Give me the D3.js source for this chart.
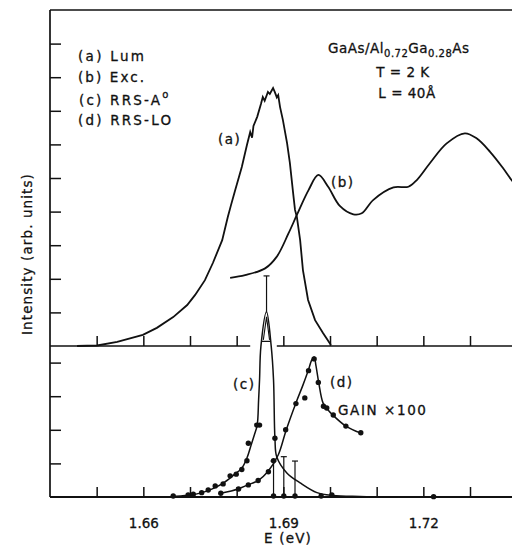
<!DOCTYPE html>
<html><head><meta charset="utf-8">
<script src="https://cdn.jsdelivr.net/npm/d3@7"></script>
<style>
body{margin:0;background:#fff;}
svg{display:block;font-family:"DejaVu Sans",sans-serif;}
</style></head>
<body><svg id="c" width="512" height="546"></svg>
<script>
// ---------- data ----------
const xDomain = [1.64, 1.74];
const xTicks = [1.65, 1.66, 1.67, 1.68, 1.69, 1.70, 1.71, 1.72, 1.73];
const xTickLabels = ["1.66", "1.69", "1.72"];
const topYTicks = [1, 2, 3, 4, 5, 6, 7, 8, 9];
const botYTicks = [1, 2, 3, 4];

// (a) luminescence (top panel)
const lumE = [1.6458,1.6501,1.6544,1.6599,1.6629,1.6664,1.6694,1.6711,1.6732,1.6749,1.6769,1.6781,1.6788,1.6796,1.6811,1.6822,1.6829,1.6833,1.6836,1.6844,1.6852,1.6856,1.6860,1.6867,1.6871,1.6878,1.6882,1.6886,1.6889,1.6893,1.6899,1.6908,1.6914,1.6921,1.6925,1.6929,1.6936,1.6942,1.6953,1.6968,1.6985,1.7002];
const lumI = [0,0.015,0.12,0.33,0.54,0.86,1.22,1.52,1.96,2.47,3.15,3.84,4.2,4.6,5.33,5.98,6.37,6.2,6.55,6.82,7.2,7.41,7.3,7.56,7.5,7.68,7.55,7.4,7.47,7.11,6.73,6.04,5.45,4.55,4.05,3.84,3.15,2.26,1.37,0.77,0.39,0.03];

// (b) excitation (top panel)
const excE = [1.6786,1.6818,1.6861,1.6886,1.6911,1.6929,1.6954,1.6975,1.6996,1.7021,1.7050,1.7068,1.7093,1.7136,1.7168,1.7186,1.7214,1.7250,1.7289,1.7314,1.7343,1.7371,1.7389,1.7400];
const excI = [2.03,2.11,2.31,2.66,3.35,3.90,4.64,5.09,4.74,4.17,3.92,3.95,4.35,4.72,4.74,4.94,5.44,6.03,6.33,6.18,5.78,5.29,4.94,4.75];

// (c) RRS-A0 fit curve and points (bottom panel)
const cFitE = [1.6657,1.6696,1.6726,1.6754,1.6775,1.6796,1.6811,1.6822,1.6831,1.6839,1.6844,1.6847,1.6849,1.6852,1.6864,1.6874,1.6879,1.6882,1.6886,1.6908,1.6936,1.6972,1.7006,1.7064,1.7144];
const cFitI = [0.01,0.05,0.13,0.28,0.45,0.68,0.86,1.16,1.55,1.90,2.14,2.89,3.48,4.49,5.51,4.49,3.48,1.75,1.19,0.71,0.42,0.13,0.045,0.015,0];
const cPtE = [1.6664,1.6696,1.6707,1.6725,1.6739,1.6754,1.6771,1.6786,1.6799,1.6811,1.6822,1.6825,1.6843,1.6849,1.6882,1.6879,1.6901,1.6925,1.6981,1.7004,1.7222];
const cPtI = [0.03,0.06,0.08,0.13,0.21,0.33,0.39,0.63,0.68,0.82,1.08,1.60,2.14,2.14,1.75,0.03,0.03,0.03,0.03,0.06,0.01];
const cErrE = [1.6864, 1.6879, 1.6901, 1.6925];
const cErrLo = [5.51, 0.03, 0.03, 0.03];
const cErrHi = [6.58, 1.07, 1.20, 1.07];

// (d) RRS-LO fit curve and points (bottom panel)
const dFitE = [1.6766,1.6803,1.6824,1.6846,1.6867,1.6889,1.6906,1.6927,1.6942,1.6953,1.6961,1.6966,1.6970,1.6976,1.6985,1.6994,1.7006,1.7034,1.7066];
const dFitI = [0.11,0.24,0.36,0.49,0.76,1.25,1.99,2.80,3.33,3.75,4.08,4.17,3.90,3.39,2.80,2.62,2.44,2.11,1.90];
const dPtE = [1.6766,1.6804,1.6825,1.6846,1.6868,1.6879,1.6905,1.6927,1.6946,1.6954,1.6966,1.6975,1.6986,1.6993,1.7007,1.7034,1.7066];
const dPtI = [0.11,0.24,0.36,0.49,0.75,1.08,2.00,2.78,2.95,3.76,4.11,3.41,2.70,2.65,2.44,2.11,1.91];

// ---------- layout ----------
const L = 50, R = 516.67, TOP = 10, MID = 346, BOT = 497;
const svg = d3.select("#c");
const x = d3.scaleLinear().domain(xDomain).range([L, R]);
const yT = d3.scaleLinear().domain([0, 10]).range([MID, TOP]);
const yB = d3.scaleLinear().domain([0, 4.5]).range([BOT, BOT - 4.5 * 33.6]);
const ink = "#111";

// frame lines
svg.append("line").attr("x1", L).attr("x2", L).attr("y1", TOP).attr("y2", BOT).attr("stroke", ink).attr("stroke-width", 1.7);
svg.append("line").attr("x1", L).attr("x2", 512).attr("y1", TOP).attr("y2", TOP).attr("stroke", ink).attr("stroke-width", 1.5);
svg.append("line").attr("x1", L).attr("x2", 512).attr("y1", BOT).attr("y2", BOT).attr("stroke", ink).attr("stroke-width", 1.9);
// middle axis with a gap where the RRS spike crosses it
svg.append("line").attr("x1", L).attr("x2", x(1.6829)).attr("y1", MID).attr("y2", MID).attr("stroke", ink).attr("stroke-width", 1.7);
svg.append("line").attr("x1", x(1.6886)).attr("x2", 512).attr("y1", MID).attr("y2", MID).attr("stroke", ink).attr("stroke-width", 1.7);

// x axes (ticks inside)
function xAxis(yPos, labels) {
  const g = svg.append("g").attr("transform", `translate(0,${yPos})`)
    .call(d3.axisBottom(x).tickValues(xTicks).tickSize(-10).tickPadding(21)
      .tickFormat(d => { const s = d3.format(".2f")(d); return labels && xTickLabels.includes(s) ? s : ""; }));
  g.select(".domain").remove();
  g.selectAll(".tick line").attr("stroke", ink).attr("stroke-width", 1.5);
  g.selectAll(".tick text").attr("fill", ink).attr("stroke", ink).attr("stroke-width", 0.3)
    .attr("font-size", 13.5).attr("font-family", "DejaVu Sans");
}
xAxis(MID, false);
xAxis(BOT, true);

// y axes (ticks inside, no labels)
function yAxis(scale, ticks) {
  const g = svg.append("g").attr("transform", `translate(${L},0)`)
    .call(d3.axisLeft(scale).tickValues(ticks).tickSize(-11).tickFormat(""));
  g.select(".domain").remove();
  g.selectAll(".tick line").attr("stroke", ink).attr("stroke-width", 1.5);
}
yAxis(yT, topYTicks);
yAxis(yB, botYTicks);

// curves
const lumData = lumE.map((e, i) => [e, lumI[i]]);
const excData = excE.map((e, i) => [e, excI[i]]);
const cFit = cFitE.map((e, i) => [e, cFitI[i]]);
const dFit = dFitE.map((e, i) => [e, dFitI[i]]);

svg.append("path").datum(lumData).attr("fill", "none").attr("stroke", ink).attr("stroke-width", 1.8)
  .attr("d", d3.line().x(d => x(d[0])).y(d => yT(d[1])).curve(d3.curveLinear));
svg.append("path").datum(excData).attr("fill", "none").attr("stroke", ink).attr("stroke-width", 1.8)
  .attr("d", d3.line().x(d => x(d[0])).y(d => yT(d[1])).curve(d3.curveCatmullRom.alpha(0.5)));
svg.append("path").datum(cFit).attr("fill", "none").attr("stroke", ink).attr("stroke-width", 1.5)
  .attr("d", d3.line().x(d => x(d[0])).y(d => yB(d[1])).curve(d3.curveCatmullRom.alpha(0.5)));
svg.append("path").datum(dFit).attr("fill", "none").attr("stroke", ink).attr("stroke-width", 1.5)
  .attr("d", d3.line().x(d => x(d[0])).y(d => yB(d[1])).curve(d3.curveCatmullRom.alpha(0.5)));

// inner outline of the RRS spike
const pk = cErrE[0], pkI = cErrLo[0];
const px = x(pk), py = yB(pkI);
svg.append("path").attr("fill", "none").attr("stroke", ink).attr("stroke-width", 1.1)
  .attr("d", `M${px-3.2},${py+28} L${px},${py+5} L${px+3},${py+28} M${px-5.5},${py+29.5} L${px+4.5},${py+29.5}`);

// error bars
cErrE.forEach((e, i) => {
  const xe = x(e);
  svg.append("line").attr("x1", xe).attr("x2", xe).attr("y1", yB(cErrLo[i])).attr("y2", yB(cErrHi[i])).attr("stroke", ink).attr("stroke-width", 1.2);
  svg.append("line").attr("x1", xe - 3).attr("x2", xe + 3).attr("y1", yB(cErrHi[i])).attr("y2", yB(cErrHi[i])).attr("stroke", ink).attr("stroke-width", 1.2);
});

// data points
svg.append("g").selectAll("circle").data(cPtE.map((e, i) => [e, cPtI[i]])).join("circle")
  .attr("cx", d => x(d[0])).attr("cy", d => yB(d[1])).attr("r", 2.7).attr("fill", ink);
svg.append("g").selectAll("circle").data(dPtE.map((e, i) => [e, dPtI[i]])).join("circle")
  .attr("cx", d => x(d[0])).attr("cy", d => yB(d[1])).attr("r", 2.7).attr("fill", ink);

// text
function txt(xp, yp, s, opts = {}) {
  return svg.append("text").attr("x", xp).attr("y", yp).attr("fill", ink)
    .attr("stroke", ink).attr("stroke-width", 0.3)
    .attr("font-size", opts.size || 13.5).attr("letter-spacing", opts.ls || 1)
    .attr("text-anchor", opts.anchor || "start").text(s);
}
txt(78, 60.5, "(a) Lum", {ls: 2.3});
txt(78, 81.7, "(b) Exc.", {ls: 2.1});
const tc = txt(79, 105, "(c) RRS-A", {ls: 2.2});
tc.append("tspan").attr("dy", -7).attr("font-size", 10).text("o");
txt(78, 125, "(d) RRS-LO", {ls: 2.2});

const t1 = svg.append("text").attr("x", 328).attr("y", 52.7).attr("fill", ink).attr("stroke", ink).attr("stroke-width", 0.3)
  .attr("font-size", 13.5).attr("letter-spacing", 0.5);
t1.append("tspan").text("GaAs/Al");
t1.append("tspan").attr("dy", 4).attr("font-size", 10).text("0.72");
t1.append("tspan").attr("dy", -4).text("Ga");
t1.append("tspan").attr("dy", 4).attr("font-size", 10).text("0.28");
t1.append("tspan").attr("dy", -4).text("As");
txt(403, 76.7, "T = 2 K", {anchor: "middle", ls: 0.5});
txt(407, 98.3, "L = 40Å", {anchor: "middle", ls: 0.5});

txt(218, 144, "(a)", {ls: 1.5});
txt(331, 186.5, "(b)", {ls: 1.5});
txt(233, 389, "(c)", {ls: 1.5});
txt(330, 386.5, "(d)", {ls: 1.5});
txt(338, 415, "GAIN ×100", {ls: 1.6});

txt(288, 543, "E (eV)", {anchor: "middle", ls: 1.2});
svg.append("text").attr("transform", "translate(31.5,254) rotate(-90)").attr("text-anchor", "middle")
  .attr("fill", ink).attr("stroke", ink).attr("stroke-width", 0.3)
  .attr("font-size", 13.5).attr("letter-spacing", 1.1).text("Intensity (arb. units)");
</script></body></html>
